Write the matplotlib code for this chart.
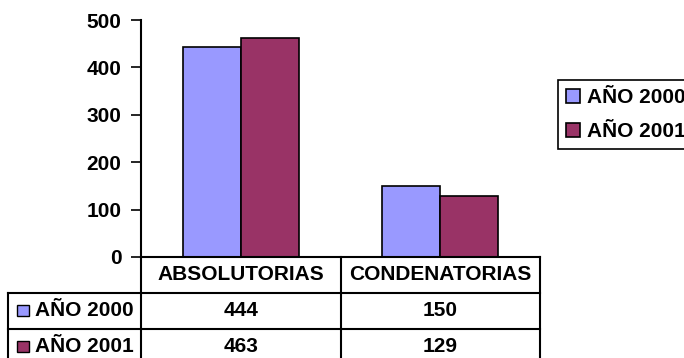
import numpy as np
import matplotlib.pyplot as plt
from matplotlib.patches import Rectangle

# sentencias por año
categorias = ['ABSOLUTORIAS', 'CONDENATORIAS']
series = ['AÑO 2000', 'AÑO 2001']
valores_2000 = [444, 150]
valores_2001 = [463, 129]
colores = ['#9999FF', '#993366']
yticks = [0, 100, 200, 300, 400, 500]

plt.rcParams['font.family'] = ['Liberation Sans', 'DejaVu Sans']
plt.rcParams['font.weight'] = 'bold'
plt.rcParams['font.size'] = 15

W, H = 684, 358
fig = plt.figure(figsize=(W / 100, H / 100), dpi=100)
ax = fig.add_axes([141 / W, 1 - 257 / H, (540 - 141) / W, (257 - 20) / H])

x = np.arange(len(categorias))
ancho = 0.29
for i, vals in enumerate([valores_2000, valores_2001]):
    ax.bar(x + (i - 0.5) * ancho, vals, ancho, color=colores[i],
           edgecolor='black', linewidth=1.2, label=series[i])

ax.set_xlim(-0.5, len(categorias) - 0.5)
ax.set_ylim(0, 500)
ax.set_yticks(yticks)
ax.set_xticks([])
ax.spines['top'].set_visible(False)
ax.spines['right'].set_visible(False)
ax.spines['left'].set_linewidth(1.5)
ax.spines['bottom'].set_linewidth(1.5)
ax.tick_params(axis='y', length=7, width=1.2, pad=7)

# tabla de datos debajo del eje
tab = fig.add_axes([0, 0, 1, 1])
tab.set_xlim(0, W)
tab.set_ylim(H, 0)
tab.axis('off')
tab.patch.set_alpha(0)

def px(xv):
    return ax.transData.transform((xv, 0))

bordes = [px(v - 0.5)[0] for v in range(len(categorias) + 1)]
y0 = H - px(0)[1]
alto = 36
izq = 8
filas = [y0 + alto * k for k in range(4)]
lw = 1.5

for xb in bordes:
    tab.plot([xb, xb], [y0, filas[3]], color='black', lw=lw)
tab.plot([izq, izq], [filas[1], filas[3]], color='black', lw=lw)
for yb in filas[1:]:
    tab.plot([izq, bordes[-1]], [yb, yb], color='black', lw=lw)

for j, cat in enumerate(categorias):
    xc = (bordes[j] + bordes[j + 1]) / 2
    tab.text(xc, (filas[0] + filas[1]) / 2, cat, ha='center', va='center')
    for k, vals in enumerate([valores_2000, valores_2001]):
        tab.text(xc, (filas[k + 1] + filas[k + 2]) / 2, str(vals[j]),
                 ha='center', va='center')

for k, nombre in enumerate(series):
    yc = (filas[k + 1] + filas[k + 2]) / 2
    tab.add_patch(Rectangle((17, yc - 6), 12, 11, facecolor=colores[k],
                            edgecolor='black', lw=1))
    tab.text(35, yc, nombre, ha='left', va='center')

leg = fig.legend(loc='upper left', bbox_to_anchor=(558 / W, 1 - 80 / H),
                 borderaxespad=0, fancybox=False, edgecolor='black',
                 framealpha=1, handlelength=0.65, handleheight=0.65,
                 handletextpad=0.35, labelspacing=0.7, borderpad=0.4)
leg.get_frame().set_linewidth(1.2)

fig.savefig('out.png', dpi=100)
